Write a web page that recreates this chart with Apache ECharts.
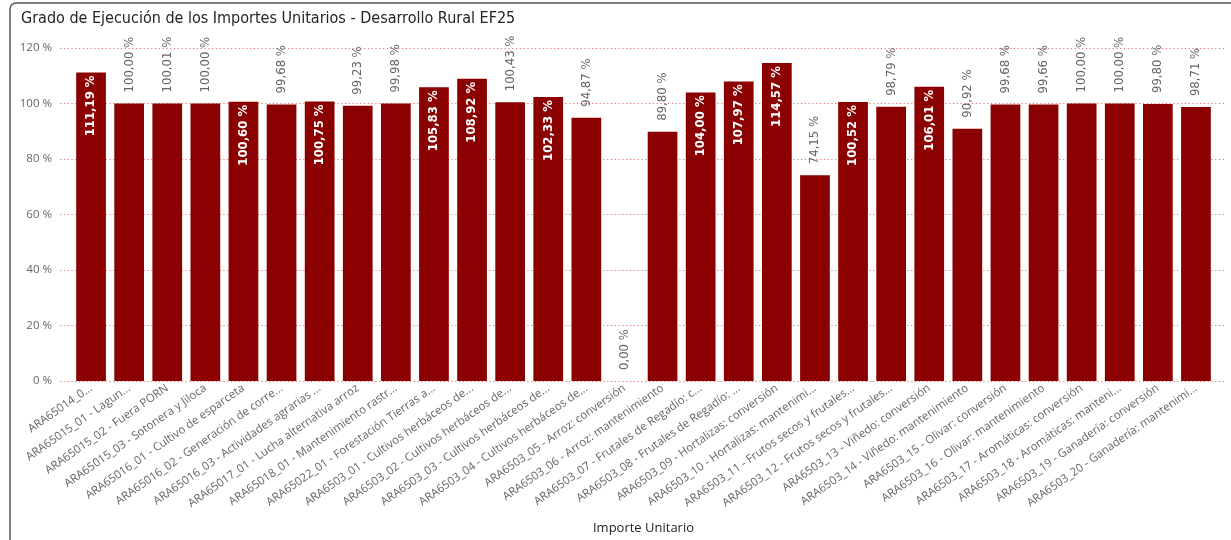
<!DOCTYPE html>
<html><head><meta charset="utf-8">
<script src="https://cdn.jsdelivr.net/npm/echarts@6/dist/echarts.min.js"></script>
<style>html,body{margin:0;padding:0;background:#fff}#c{width:1231px;height:540px}</style>
</head><body><div id="c"></div>
<script>
const categories = [
 'ARA65014_0...',
 'ARA65015_01 - Lagun...',
 'ARA65015_02 - Fuera PORN',
 'ARA65015_03 - Sotonera y Jiloca',
 'ARA65016_01 - Cultivo de esparceta',
 'ARA65016_02 - Generación de corre...',
 'ARA65016_03 - Actividades agrarias ...',
 'ARA65017_01 - Lucha alternativa arroz',
 'ARA65018_01 - Mantenimiento rastr...',
 'ARA65022_01 - Forestación Tierras a...',
 'ARA6503_01 - Cultivos herbáceos de...',
 'ARA6503_02 - Cultivos herbáceos de...',
 'ARA6503_03 - Cultivos herbáceos de...',
 'ARA6503_04 - Cultivos herbáceos de...',
 'ARA6503_05 - Arroz: conversión',
 'ARA6503_06 - Arroz: mantenimiento',
 'ARA6503_07 - Frutales de Regadío: c...',
 'ARA6503_08 - Frutales de Regadío: ...',
 'ARA6503_09 - Hortalizas: conversión',
 'ARA6503_10 - Hortalizas: mantenimi...',
 'ARA6503_11 - Frutos secos y frutales...',
 'ARA6503_12 - Frutos secos y frutales...',
 'ARA6503_13 - Viñedo: conversión',
 'ARA6503_14 - Viñedo: mantenimiento',
 'ARA6503_15 - Olivar: conversión',
 'ARA6503_16 - Olivar: mantenimiento',
 'ARA6503_17 - Aromáticas: conversión',
 'ARA6503_18 - Aromáticas: manteni...',
 'ARA6503_19 - Ganadería: conversión',
 'ARA6503_20 - Ganadería: mantenimi...'
];
const values = [111.19,100.00,100.01,100.00,100.60,99.68,100.75,99.23,99.98,105.83,108.92,100.43,102.33,94.87,0.00,89.80,104.00,107.97,114.57,74.15,100.52,98.79,106.01,90.92,99.68,99.66,100.00,100.00,99.80,98.71];
const labelInside = [1,0,0,0,1,0,1,0,0,1,1,0,1,0,0,0,1,1,1,0,1,0,1,0,0,0,0,0,0,0];
const yTicks = [0,20,40,60,80,100,120];

const fmt = v => v.toFixed(2).replace('.', ',') + ' %';
const labFont = "'DejaVu Sans Condensed', 'DejaVu Sans', sans-serif";
const axFont = "'Open Sans', sans-serif";

const data = values.map((v,i) => ({
  value: v,
  label: labelInside[i] ? {
    position: 'insideTop', rotate: 90, align: 'right', verticalAlign: 'middle',
    color: '#fff', fontWeight: 'bold', distance: 3
  } : {
    position: 'top', rotate: 90, align: 'left', verticalAlign: 'middle',
    color: '#666', fontWeight: 'normal', distance: 11
  }
}));

const chart = echarts.init(document.getElementById('c'));
chart.setOption({
  animation: false,
  graphic: [{
    type: 'rect', shape: {x: 10, y: 3, width: 1240, height: 560, r: 6},
    style: {fill: 'none', stroke: '#555', lineWidth: 1.5}, silent: true
  }],
  title: {
    text: 'Grado de Ejecución de los Importes Unitarios - Desarrollo Rural EF25',
    left: 16, top: 6,
    textStyle: {fontFamily: labFont, fontSize: 16, fontWeight: 'normal', color: '#252423'}
  },
  grid: [
    {left: 60, right: 7, top: 48, bottom: 159, containLabel: false},
    {left: 72, right: 16, top: 48, bottom: 159, containLabel: false}
  ],
  xAxis: [
    {type: 'category', gridIndex: 0, data: categories, show: false},
    {
      type: 'category', gridIndex: 1, data: categories,
      name: 'Importe Unitario', nameLocation: 'middle', nameGap: 141,
      nameTextStyle: {fontFamily: axFont, fontSize: 13, color: '#252423'},
      axisLine: {show: false}, axisTick: {show: false},
      axisLabel: {rotate: 35, interval: 0, fontFamily: axFont, fontSize: 11.5, color: '#666', margin: 6}
    }
  ],
  yAxis: [
    {
      type: 'value', gridIndex: 0, min: yTicks[0], max: yTicks[yTicks.length-1], interval: 20,
      axisLabel: {formatter: '{value} %', fontFamily: axFont, fontSize: 11.5, color: '#666', margin: 8},
      axisLine: {show: false}, axisTick: {show: false},
      splitLine: {show: true, lineStyle: {color: '#E57373', type: [1.2, 2.6], width: 1.2}}
    },
    {
      type: 'value', gridIndex: 1, min: yTicks[0], max: yTicks[yTicks.length-1], interval: 20,
      show: false, splitLine: {show: false}
    }
  ],
  series: [{
    type: 'bar', xAxisIndex: 1, yAxisIndex: 1, data: data, barCategoryGap: '22%',
    itemStyle: {color: '#8B0000'},
    label: {show: true, formatter: p => fmt(p.value), fontFamily: labFont, fontSize: 13}
  }]
});
</script></body></html>
